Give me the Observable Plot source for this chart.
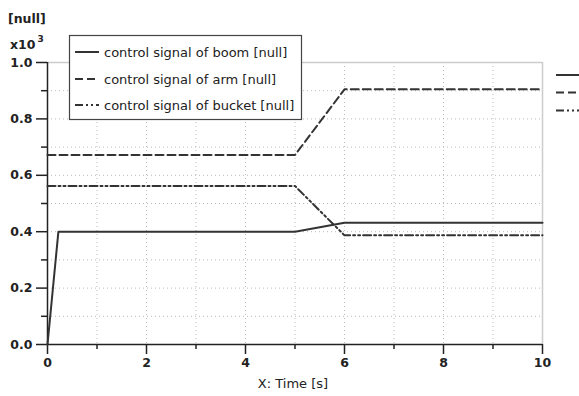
<!DOCTYPE html>
<html>
<head>
<meta charset="utf-8">
<script src="https://cdn.jsdelivr.net/npm/d3@7"></script>
<script src="https://cdn.jsdelivr.net/npm/@observablehq/plot@0.6"></script>
<style>
  html, body { margin: 0; padding: 0; background: #fff; }
  svg { display: block; }
</style>
</head>
<body>
<div id="chart"></div>
<script>
// Data (values shown in units of x10^3)
const timeBoom = [0, 0.22, 5, 6, 10];
const boom = [0, 0.40, 0.40, 0.432, 0.432];
const timeArm = [0, 5, 6, 10];
const arm = [0.672, 0.672, 0.905, 0.905];
const timeBucket = [0, 5, 6, 10];
const bucket = [0.562, 0.562, 0.387, 0.387];

const seriesNames = ["control signal of boom [null]", "control signal of arm [null]", "control signal of bucket [null]"];
const seriesDash = [null, "8,4", "8,3,2,3,2,3"];

const xMajor = [0, 2, 4, 6, 8, 10];
const xMinor = [1, 3, 5, 7, 9];
const yMajor = [0, 0.2, 0.4, 0.6, 0.8, 1.0];
const yMinor = [0.1, 0.3, 0.5, 0.7, 0.9];
const xGrid = [1, 2, 3, 4, 5, 6, 7, 8, 9];
const yGrid = [0.1, 0.2, 0.3, 0.4, 0.5, 0.6, 0.7, 0.8, 0.9];

const mk = (t, v) => t.map((x, i) => ({x, y: v[i]}));
const dBoom = mk(timeBoom, boom);
const dArm = mk(timeArm, arm);
const dBucket = mk(timeBucket, bucket);

const font = "DejaVu Sans, Verdana, sans-serif";
const lineColor = "#333";

const plot = Plot.plot({
  width: 579,
  height: 396,
  marginLeft: 47,
  marginRight: 37,
  marginTop: 62,
  marginBottom: 52,
  x: {domain: [0, 10]},
  y: {domain: [0, 1]},
  style: {fontFamily: font, background: "#fff", color: "#222"},
  marks: [
    Plot.gridX(xGrid, {stroke: "#bbb", strokeOpacity: 1, strokeDasharray: "1,3"}),
    Plot.gridY(yGrid, {stroke: "#bbb", strokeOpacity: 1, strokeDasharray: "1,3"}),
    Plot.ruleY([1], {stroke: "#ccc", strokeWidth: 1.5}),
    Plot.ruleX([10], {stroke: "#ccc", strokeWidth: 1.5}),
    Plot.axisY(yMajor, {tickSize: 11, tickFormat: d3.format(".1f"), fontSize: 12.5, fontWeight: "bold", tickPadding: 4, label: null, stroke: "#222", strokeWidth: 1.5}),
    Plot.axisY(yMinor, {tickSize: 6, text: null, label: null, stroke: "#222", strokeWidth: 1.5}),
    Plot.axisX(xMajor, {tickSize: 10, tickFormat: d3.format("d"), fontSize: 12.5, fontWeight: "bold", tickPadding: 4, label: null, stroke: "#222", strokeWidth: 1.5}),
    Plot.axisX(xMinor, {tickSize: 5, text: null, label: null, stroke: "#222", strokeWidth: 1.5}),
    Plot.ruleX([0], {stroke: "#222", strokeWidth: 1.5}),
    Plot.ruleY([0], {stroke: "#222", strokeWidth: 1.5}),
    Plot.line(dArm, {x: "x", y: "y", stroke: lineColor, strokeWidth: 2, strokeDasharray: seriesDash[1]}),
    Plot.line(dBucket, {x: "x", y: "y", stroke: lineColor, strokeWidth: 2, strokeDasharray: seriesDash[2]}),
    Plot.line(dBoom, {x: "x", y: "y", stroke: lineColor, strokeWidth: 2})
  ]
});

const svg = d3.select(plot);

// axis titles
svg.append("text").attr("x", 8).attr("y", 23).attr("text-anchor", "start").attr("font-size", 12.5).attr("font-weight", "bold")
  .attr("fill", "#222").attr("font-family", font).text("[null]");
const ex = svg.append("text").attr("x", 10).attr("y", 49).attr("text-anchor", "start").attr("font-size", 12.5).attr("font-weight", "bold")
  .attr("fill", "#222").attr("font-family", font);
ex.append("tspan").text("x10");
ex.append("tspan").attr("dy", -7).attr("dx", 2).attr("font-size", 9).text("3");
svg.append("text").attr("x", 293).attr("y", 388).attr("text-anchor", "middle").attr("font-size", 13)
  .attr("fill", "#222").attr("font-family", font).text("X: Time [s]");

// legend box
const lg = svg.append("g");
lg.append("rect").attr("x", 69.5).attr("y", 35.5).attr("width", 232).attr("height", 84)
  .attr("fill", "#fff").attr("stroke", "#444").attr("stroke-width", 1.2);
const ys = [52, 79, 105];
seriesNames.forEach((name, i) => {
  lg.append("line").attr("x1", 75).attr("x2", 99).attr("y1", ys[i]).attr("y2", ys[i])
    .attr("stroke", lineColor).attr("stroke-width", 2).attr("stroke-dasharray", seriesDash[i]);
  lg.append("text").attr("x", 104).attr("y", ys[i]).attr("dy", "0.35em").attr("text-anchor", "start").attr("font-size", 13)
    .attr("fill", "#222").attr("font-family", font).text(name);
});
// clipped outer legend samples
const ys2 = [75, 92.5, 110.5];
seriesDash.forEach((d, i) => {
  svg.append("line").attr("x1", 556).attr("x2", 585).attr("y1", ys2[i]).attr("y2", ys2[i])
    .attr("stroke", lineColor).attr("stroke-width", 2).attr("stroke-dasharray", d);
});

document.getElementById("chart").appendChild(plot);
</script>
</body>
</html>
